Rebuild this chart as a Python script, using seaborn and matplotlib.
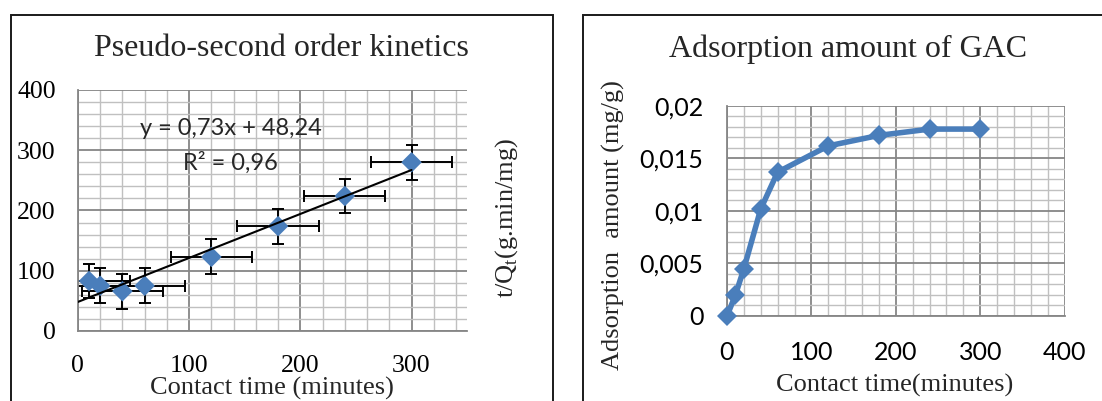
import matplotlib
matplotlib.use("Agg")
import matplotlib.pyplot as plt
import seaborn as sns
from matplotlib.ticker import MultipleLocator
from matplotlib.patches import Rectangle

# ---------------- data ----------------
time_kin = [10, 20, 40, 60, 120, 180, 240, 300]
t_over_q = [83, 75, 66, 75, 123, 174, 224, 280]
x_err = 36.5
y_err = 29
slope = 0.73
intercept = 48.24
fit_x = [0, 300]
eq_text = "y = 0,73x + 48,24"
r2_text = "R² = 0,96"

time_ads = [0, 10, 20, 40, 60, 120, 180, 240, 300]
ads_amount = [0, 0.0020, 0.0045, 0.0102, 0.0137, 0.0162, 0.0172, 0.0178, 0.0178]

left_xticks = [0, 100, 200, 300]
left_yticks = [0, 100, 200, 300, 400]
right_xticks = [0, 100, 200, 300, 400]
right_yticks = [0, 0.005, 0.01, 0.015, 0.02]
right_yticklabels = ["0", "0,005", "0,01", "0,015", "0,02"]

# ---------------- style ----------------
sns.set_style("white")
plt.rcParams["font.family"] = ["Liberation Serif", "DejaVu Serif"]
plt.rcParams["mathtext.fontset"] = "custom"
plt.rcParams["mathtext.rm"] = "Liberation Serif"

BLUE = "#4A7EBB"
MAJ = "#868686"
MIN = "#C0C0C0"
SERIF = "Liberation Serif"
SANS = "Lato"

fig = plt.figure(figsize=(11.02, 4.01), dpi=100)

# frames
fig.add_artist(Rectangle((10.7 / 1102, -0.1), (552.9 - 10.7) / 1102, 0.9626 + 0.1,
                         transform=fig.transFigure, fill=False, ec="#1a1a1a", lw=1.4))
fig.add_artist(Rectangle((582.5 / 1102, -0.1), 0.6, 0.9626 + 0.1,
                         transform=fig.transFigure, fill=False, ec="#1a1a1a", lw=1.4))


def style_axes(ax):
    ax.set_axisbelow(True)
    ax.grid(True, which="major", color=MAJ, lw=1.3)
    ax.grid(True, which="minor", color=MIN, lw=1.0)
    ax.tick_params(which="minor", length=0)
    for s in ["top", "right"]:
        ax.spines[s].set_visible(False)
    for s in ["left", "bottom"]:
        ax.spines[s].set_color(MAJ)
        ax.spines[s].set_linewidth(1.3)


# ---------------- left panel ----------------
ax1 = fig.add_axes([0.0707, 0.1746, 0.3532, 0.601])
ax1.errorbar(time_kin, t_over_q, xerr=x_err, yerr=y_err, fmt="none",
             ecolor="black", elinewidth=1.4, capsize=4, capthick=1.4, zorder=2)
sns.scatterplot(x=time_kin, y=t_over_q, marker="D", s=110, color=BLUE,
                edgecolor="none", ax=ax1, zorder=3)
sns.lineplot(x=fit_x, y=[intercept + slope * v for v in fit_x], color="black",
             lw=1.5, ax=ax1, zorder=4)
ax1.set_xlim(0, 350)
ax1.set_ylim(0, 400)
ax1.set_xticks(left_xticks)
ax1.set_yticks(left_yticks)
ax1.xaxis.set_minor_locator(MultipleLocator(20))
ax1.yaxis.set_minor_locator(MultipleLocator(20))
style_axes(ax1)
ax1.tick_params(which="major", length=5, width=1.3, color=MAJ, labelsize=18.5,
                labelcolor="black")
ax1.tick_params(axis="y", pad=11)
ax1.tick_params(axis="x", pad=12)
for lab in ax1.get_xticklabels() + ax1.get_yticklabels():
    lab.set_fontfamily(SERIF)

ax1.set_title("Pseudo-second order kinetics", fontsize=23, fontfamily=SERIF,
              x=0.522, y=1.1066, va="baseline")
ax1.set_xlabel("Contact time (minutes)", fontsize=19, fontfamily=SERIF)
ax1.xaxis.label.set_va("center")
ax1.xaxis.set_label_coords(0.4995, -0.2365)
ax1.set_ylabel(r"t/Q$_\mathregular{t}$(g.min/mg)", fontsize=19, fontfamily=SERIF)
ax1.yaxis.set_label_position("right")
ax1.yaxis.label.set_rotation(90)
ax1.yaxis.label.set_va("center")
ax1.yaxis.label.set_ha("center")
ax1.yaxis.set_label_coords(1.1025, 0.467)

ax1.text(0.393, 0.842, eq_text, transform=ax1.transAxes, ha="center", va="center",
         fontsize=17, fontfamily=SANS, zorder=5)
ax1.text(0.393, 0.700, r2_text, transform=ax1.transAxes, ha="center", va="center",
         fontsize=17, fontfamily=SANS, zorder=5)

# ---------------- right panel ----------------
ax2 = fig.add_axes([0.6597, 0.2120, 0.3064, 0.5237])
sns.lineplot(x=time_ads, y=ads_amount, color=BLUE, lw=4, marker="D",
             markersize=10.5, markeredgewidth=0, ax=ax2, clip_on=False, zorder=3)
ax2.set_xlim(0, 400)
ax2.set_ylim(0, 0.02)
ax2.set_xticks(right_xticks)
ax2.set_yticks(right_yticks)
ax2.set_yticklabels(right_yticklabels)
ax2.xaxis.set_minor_locator(MultipleLocator(20))
ax2.yaxis.set_minor_locator(MultipleLocator(0.001))
style_axes(ax2)
ax2.tick_params(which="major", length=6, width=1.3, color=MAJ, labelsize=18,
                labelcolor="black")
ax2.tick_params(axis="y", pad=11)
ax2.tick_params(axis="x", pad=12)
for lab in ax2.get_xticklabels() + ax2.get_yticklabels():
    lab.set_fontfamily(SANS)

ax2.set_title("Adsorption amount of GAC", fontsize=23, fontfamily=SERIF,
              x=0.360, y=1.195, va="baseline")
ax2.set_xlabel("Contact time(minutes)", fontsize=19, fontfamily=SERIF)
ax2.xaxis.label.set_va("center")
ax2.xaxis.set_label_coords(0.4957, -0.333)
ax2.set_ylabel("Adsorption  amount (mg/g)", fontsize=19, fontfamily=SERIF)
ax2.yaxis.label.set_va("center")
ax2.yaxis.label.set_ha("center")
ax2.yaxis.set_label_coords(-0.336, 0.433)

fig.savefig("out.png", dpi=100)
